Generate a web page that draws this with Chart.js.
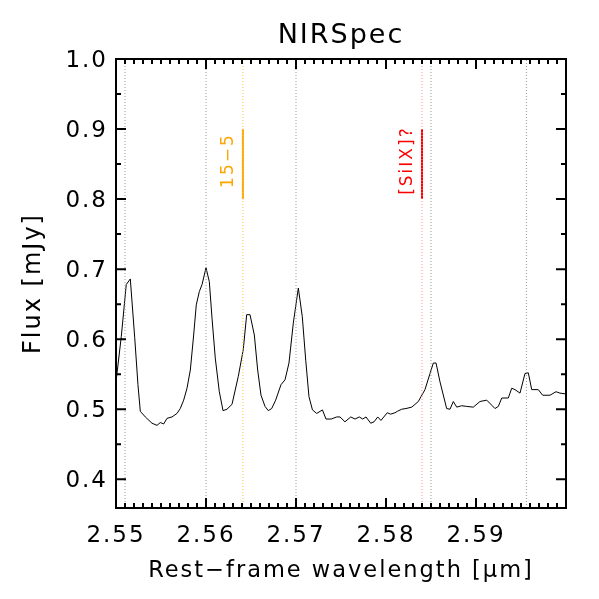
<!DOCTYPE html>
<html>
<head>
<meta charset="utf-8">
<script src="https://cdn.jsdelivr.net/npm/chart.js@4.4.0/dist/chart.umd.min.js"></script>
<style>
  html, body { margin: 0; padding: 0; background: #fff; }
</style>
</head>
<body>
<canvas id="spec" width="599" height="599"></canvas>
<script>
// spectrum
var wavelength = [
  2.55000, 2.55059, 2.55114, 2.55159, 2.55208, 2.55244, 2.55270, 2.55326, 2.55400, 2.55456,
  2.55492, 2.55530, 2.55567, 2.55622, 2.55678, 2.55714, 2.55752, 2.55789, 2.55826, 2.55863,
  2.55892, 2.55926, 2.55956, 2.56000, 2.56037, 2.56067, 2.56103, 2.56148, 2.56189, 2.56233,
  2.56289, 2.56359, 2.56414, 2.56452, 2.56489, 2.56537, 2.56574, 2.56611, 2.56656, 2.56692,
  2.56730, 2.56774, 2.56833, 2.56878, 2.56922, 2.56970, 2.57026, 2.57070, 2.57108, 2.57144,
  2.57183, 2.57230, 2.57294, 2.57333, 2.57392, 2.57452, 2.57489, 2.57544, 2.57608, 2.57656,
  2.57703, 2.57741, 2.57778, 2.57830, 2.57867, 2.57908, 2.57944, 2.58014, 2.58052, 2.58100,
  2.58126, 2.58174, 2.58222, 2.58286, 2.58359, 2.58433, 2.58489, 2.58526, 2.58556, 2.58600,
  2.58674, 2.58711, 2.58748, 2.58786, 2.58841, 2.58897, 2.58970, 2.59044, 2.59119, 2.59211,
  2.59248, 2.59286, 2.59359, 2.59397, 2.59433, 2.59489, 2.59544, 2.59581, 2.59619, 2.59692,
  2.59741, 2.59822, 2.59889, 2.59933, 2.59989
];
var flux = [
  0.539, 0.604, 0.678, 0.686, 0.602, 0.535, 0.497, 0.489, 0.480, 0.477,
  0.481, 0.479, 0.487, 0.489, 0.494, 0.501, 0.513, 0.530, 0.556, 0.606,
  0.649, 0.668, 0.678, 0.702, 0.682, 0.630, 0.573, 0.525, 0.498, 0.500,
  0.507, 0.547, 0.585, 0.635, 0.635, 0.606, 0.556, 0.520, 0.504, 0.498,
  0.501, 0.513, 0.535, 0.542, 0.566, 0.623, 0.673, 0.632, 0.570, 0.518,
  0.499, 0.494, 0.499, 0.486, 0.486, 0.489, 0.489, 0.482, 0.489, 0.486,
  0.489, 0.486, 0.489, 0.480, 0.482, 0.489, 0.484, 0.495, 0.493, 0.495,
  0.497, 0.500, 0.501, 0.503, 0.511, 0.528, 0.551, 0.566, 0.566, 0.539,
  0.501, 0.500, 0.511, 0.503, 0.505, 0.504, 0.503, 0.511, 0.513, 0.501,
  0.504, 0.516, 0.516, 0.530, 0.528, 0.523, 0.551, 0.552, 0.528, 0.528,
  0.520, 0.520, 0.525, 0.523, 0.522
];

var xTicks = [2.55, 2.56, 2.57, 2.58, 2.59];
var yTicks = [0.4, 0.5, 0.6, 0.7, 0.8, 0.9, 1.0];
var xRange = [2.55, 2.6];
var yRange = [0.359, 1.0];

// dotted reference lines
var grayLines = [2.551, 2.560, 2.570, 2.585, 2.5956];
var lineWaves = [2.5641, 2.5840];
var lineNames = ['15\u22125', '[SiIX]?'];
var lineColors = ['#ffa500', '#ff0000'];
var dotColors = ['#ffc040', '#ff9090'];
var markRange = [0.8, 0.9];
var nameLevel = 0.855;

var datasets = [];
grayLines.forEach(function (w) {
  datasets.push({
    data: [{x: w, y: yRange[0]}, {x: w, y: yRange[1]}],
    borderColor: '#999999', borderWidth: 1, borderDash: [1, 2], pointRadius: 0
  });
});
lineWaves.forEach(function (w, i) {
  datasets.push({
    data: [{x: w, y: yRange[0]}, {x: w, y: yRange[1]}],
    borderColor: dotColors[i], borderWidth: 1, borderDash: [1, 2], pointRadius: 0
  });
  datasets.push({
    data: [{x: w, y: markRange[0]}, {x: w, y: markRange[1]}],
    borderColor: lineColors[i], borderWidth: 2, pointRadius: 0
  });
});
datasets.push({
  data: wavelength.map(function (w, i) { return {x: w, y: flux[i]}; }),
  borderColor: '#000', borderWidth: 1, pointRadius: 0, tension: 0
});

var spacing = {
  id: 'spacing',
  beforeUpdate: function (chart) { chart.ctx.letterSpacing = '2px'; },
  beforeDraw: function (chart) { chart.ctx.letterSpacing = '2px'; }
};

// IDL-like box with inward ticks on all sides
var frame = {
  id: 'frame',
  afterDraw: function (chart) {
    var ctx = chart.ctx, a = chart.chartArea;
    var xs = chart.scales.x, ys = chart.scales.y;
    ctx.save();
    ctx.strokeStyle = '#000';
    ctx.lineWidth = 2;
    ctx.strokeRect(a.left, a.top, a.right - a.left, a.bottom - a.top);
    ctx.beginPath();
    for (var i = 0; i < 50; i++) {
      var px = xs.getPixelForValue(xRange[0] + i * 0.001);
      var len = i % 10 === 0 ? 10 : 5;
      ctx.moveTo(px, a.bottom); ctx.lineTo(px, a.bottom - len);
      ctx.moveTo(px, a.top); ctx.lineTo(px, a.top + len);
    }
    for (var j = 0; j <= 12; j++) {
      var py = ys.getPixelForValue(0.4 + j * 0.05);
      var ylen = j % 2 === 0 ? 10 : 5;
      ctx.moveTo(a.left, py); ctx.lineTo(a.left + ylen, py);
      ctx.moveTo(a.right, py); ctx.lineTo(a.right - ylen, py);
    }
    ctx.stroke();
    ctx.restore();
  },
  afterDatasetsDraw: function (chart) {
    var ctx = chart.ctx, xs = chart.scales.x, ys = chart.scales.y;
    ctx.save();
    ctx.font = '17px "DejaVu Sans"';
    ctx.textAlign = 'center';
    ctx.textBaseline = 'middle';
    lineWaves.forEach(function (w, i) {
      ctx.save();
      ctx.translate(xs.getPixelForValue(w) - 14, ys.getPixelForValue(nameLevel));
      ctx.rotate(-Math.PI / 2);
      ctx.fillStyle = lineColors[i];
      ctx.fillText(lineNames[i], 0, 0);
      ctx.restore();
    });
    ctx.restore();
  }
};

new Chart(document.getElementById('spec'), {
  type: 'line',
  data: { datasets: datasets },
  plugins: [spacing, frame],
  options: {
    responsive: false,
    animation: false,
    layout: { padding: { left: 0, right: 33, top: 0, bottom: 0 } },
    plugins: {
      legend: { display: false },
      tooltip: { enabled: false },
      title: {
        display: true,
        fullSize: false,
        text: 'NIRSpec',
        color: '#000',
        font: { family: 'DejaVu Sans', size: 27, weight: 'normal' },
        padding: { top: 20, bottom: 6.6 }
      }
    },
    scales: {
      x: {
        type: 'linear',
        min: xRange[0],
        max: xRange[1],
        afterBuildTicks: function (s) { s.ticks = xTicks.map(function (v) { return {value: v}; }); },
        afterFit: function (s) { s.height = 91; },
        grid: { display: false, drawTicks: false },
        border: { display: false },
        ticks: {
          color: '#000', padding: 14, maxRotation: 0,
          font: { family: 'DejaVu Sans', size: 23 },
          callback: function (v) { return v.toFixed(2); }
        },
        title: {
          display: true, text: 'Rest\u2212frame wavelength [\u03bcm]', color: '#000',
          font: { family: 'DejaVu Sans', size: 22.5 },
          padding: { top: 0, bottom: 14 }
        }
      },
      y: {
        min: yRange[0],
        max: yRange[1],
        afterBuildTicks: function (s) { s.ticks = yTicks.map(function (v) { return {value: v}; }); },
        afterFit: function (s) { s.width = 116; },
        grid: { display: false, drawTicks: false },
        border: { display: false },
        ticks: {
          color: '#000', padding: 8, labelOffset: 2,
          font: { family: 'DejaVu Sans', size: 23 },
          callback: function (v) { return v.toFixed(1); }
        },
        title: {
          display: true, text: 'Flux [mJy]', color: '#000',
          font: { family: 'DejaVu Sans', size: 24 },
          padding: { top: 19, bottom: 0 }
        }
      }
    }
  }
});
</script>
</body>
</html>
